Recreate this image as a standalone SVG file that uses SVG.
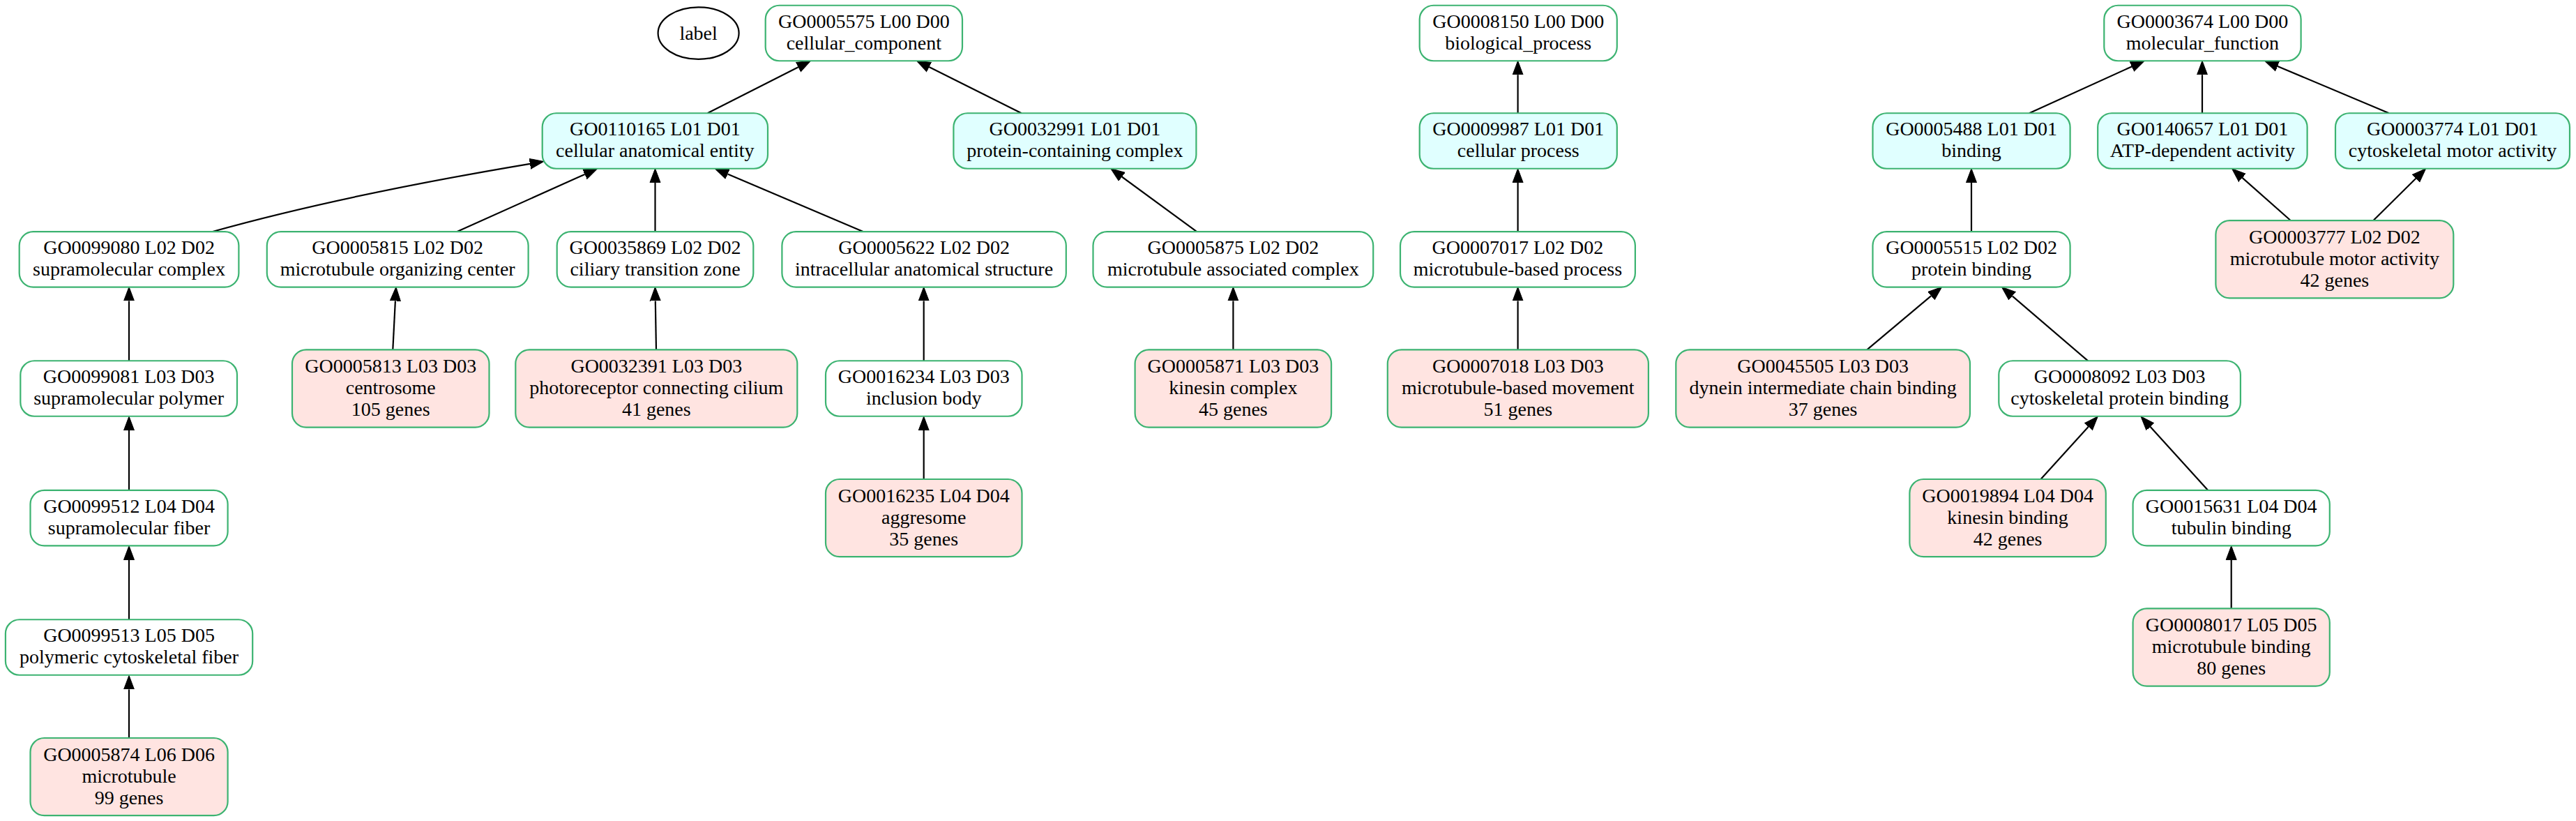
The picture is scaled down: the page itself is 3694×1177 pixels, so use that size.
<svg xmlns="http://www.w3.org/2000/svg" width="3694" height="1177" viewBox="0 0 3694 1177">
<style>
.b{stroke:#3cb371;stroke-width:2.2;fill:#ffffff}
.c{stroke:#3cb371;stroke-width:2.2;fill:#e0ffff}
.p{stroke:#3cb371;stroke-width:2.2;fill:#ffe4e1}
text{font-family:"Liberation Serif","Times New Roman",serif;font-size:28px;fill:#000;text-anchor:middle}
.e path{stroke:#000;stroke-width:2.2;fill:none}
</style>
<defs>
<marker id="ah" markerUnits="userSpaceOnUse" markerWidth="22" markerHeight="18" refX="0" refY="8" orient="auto" viewBox="0 0 22 16">
<path d="M0,0.5 L20,8 L0,15.5 z" fill="#000" stroke="#000" stroke-width="1"/>
</marker>
</defs>
<rect width="3694" height="1177" fill="#fff"/>
<g class="e" id="edges">
<path marker-end="url(#ah)" d="M1014.6,162.2 L1144.7,96.2"/>
<path marker-end="url(#ah)" d="M1464.7,162.2 L1332.3,96.1"/>
<path marker-end="url(#ah)" d="M305,332 C455,290 610,260 760,234.8"/>
<path marker-end="url(#ah)" d="M655.6,332.1 L838.5,249.9"/>
<path marker-end="url(#ah)" d="M939.5,332.1 L939.5,261.7"/>
<path marker-end="url(#ah)" d="M1237.6,332.1 L1043.4,249.5"/>
<path marker-end="url(#ah)" d="M1716.2,332.1 L1608.9,253.5"/>
<path marker-end="url(#ah)" d="M185,517.4 L185,431.4"/>
<path marker-end="url(#ah)" d="M563.3,501.4 L566.9,431.4"/>
<path marker-end="url(#ah)" d="M941,501.3 L939.8,431.4"/>
<path marker-end="url(#ah)" d="M1324.7,517.4 L1324.7,431.4"/>
<path marker-end="url(#ah)" d="M1768.4,501.3 L1768.4,431.4"/>
<path marker-end="url(#ah)" d="M185,702.6 L185,617"/>
<path marker-end="url(#ah)" d="M185,888 L185,802.6"/>
<path marker-end="url(#ah)" d="M185,1057.8 L185,988.4"/>
<path marker-end="url(#ah)" d="M1324.7,687 L1324.7,617"/>
<path marker-end="url(#ah)" d="M2176.6,162.2 L2176.6,107.2"/>
<path marker-end="url(#ah)" d="M2176.6,332.1 L2176.6,261.7"/>
<path marker-end="url(#ah)" d="M2176.6,501.3 L2176.6,431.4"/>
<path marker-end="url(#ah)" d="M2910,162.2 L3056.9,95.5"/>
<path marker-end="url(#ah)" d="M3158,162.2 L3158,107.2"/>
<path marker-end="url(#ah)" d="M3425.8,162.2 L3266,95"/>
<path marker-end="url(#ah)" d="M2827,332.1 L2827,261.7"/>
<path marker-end="url(#ah)" d="M3285.5,316.8 L3215.5,254.9"/>
<path marker-end="url(#ah)" d="M3402.7,316.8 L3464.4,255.8"/>
<path marker-end="url(#ah)" d="M2677.3,501.3 L2769.3,424.2"/>
<path marker-end="url(#ah)" d="M2994.2,517.4 L2885.6,424.4"/>
<path marker-end="url(#ah)" d="M2926.5,687 L2994.8,611.8"/>
<path marker-end="url(#ah)" d="M3165.9,702.6 L3083.5,611.8"/>
<path marker-end="url(#ah)" d="M3199.7,872.4 L3199.7,802.6"/>
</g>
<g id="label"><ellipse cx="1001.6" cy="47.6" rx="58" ry="37.3" fill="#fff" stroke="#000" stroke-width="2.2"/><text x="1001.6" y="56.5">label</text></g>
<g id="GO0005575"><rect class="b" x="1097.7" y="7.75" width="282.3" height="79.5" rx="20"/><text><tspan x="1238.85" y="39.5">GO0005575 L00 D00</tspan><tspan x="1238.85" y="70.5">cellular_component</tspan></text></g>
<g id="GO0008150"><rect class="b" x="2035.7" y="7.75" width="283.1" height="79.5" rx="20"/><text><tspan x="2177.25" y="39.5">GO0008150 L00 D00</tspan><tspan x="2177.25" y="70.5">biological_process</tspan></text></g>
<g id="GO0003674"><rect class="b" x="3017.3" y="7.75" width="282.3" height="79.5" rx="20"/><text><tspan x="3158.45" y="39.5">GO0003674 L00 D00</tspan><tspan x="3158.45" y="70.5">molecular_function</tspan></text></g>
<g id="GO0110165"><rect class="c" x="777.7" y="162.25" width="323.3" height="79.5" rx="20"/><text><tspan x="939.35" y="194">GO0110165 L01 D01</tspan><tspan x="939.35" y="225">cellular anatomical entity</tspan></text></g>
<g id="GO0032991"><rect class="c" x="1367.4" y="162.25" width="348" height="79.5" rx="20"/><text><tspan x="1541.4" y="194">GO0032991 L01 D01</tspan><tspan x="1541.4" y="225">protein-containing complex</tspan></text></g>
<g id="GO0009987"><rect class="c" x="2035.7" y="162.25" width="283.1" height="79.5" rx="20"/><text><tspan x="2177.25" y="194">GO0009987 L01 D01</tspan><tspan x="2177.25" y="225">cellular process</tspan></text></g>
<g id="GO0005488"><rect class="c" x="2685.5" y="162.25" width="283.1" height="79.5" rx="20"/><text><tspan x="2827.05" y="194">GO0005488 L01 D01</tspan><tspan x="2827.05" y="225">binding</tspan></text></g>
<g id="GO0140657"><rect class="c" x="3008.2" y="162.25" width="300.4" height="79.5" rx="20"/><text><tspan x="3158.4" y="194">GO0140657 L01 D01</tspan><tspan x="3158.4" y="225">ATP-dependent activity</tspan></text></g>
<g id="GO0003774"><rect class="c" x="3349" y="162.25" width="336" height="79.5" rx="20"/><text><tspan x="3517" y="194">GO0003774 L01 D01</tspan><tspan x="3517" y="225">cytoskeletal motor activity</tspan></text></g>
<g id="GO0099080"><rect class="b" x="27.7" y="332.05" width="314.7" height="79.5" rx="20"/><text><tspan x="185.05" y="363.8">GO0099080 L02 D02</tspan><tspan x="185.05" y="394.8">supramolecular complex</tspan></text></g>
<g id="GO0005815"><rect class="b" x="382.8" y="332.05" width="374.8" height="79.5" rx="20"/><text><tspan x="570.2" y="363.8">GO0005815 L02 D02</tspan><tspan x="570.2" y="394.8">microtubule organizing center</tspan></text></g>
<g id="GO0035869"><rect class="b" x="798.7" y="332.05" width="281.6" height="79.5" rx="20"/><text><tspan x="939.5" y="363.8">GO0035869 L02 D02</tspan><tspan x="939.5" y="394.8">ciliary transition zone</tspan></text></g>
<g id="GO0005622"><rect class="b" x="1121.4" y="332.05" width="407.4" height="79.5" rx="20"/><text><tspan x="1325.1" y="363.8">GO0005622 L02 D02</tspan><tspan x="1325.1" y="394.8">intracellular anatomical structure</tspan></text></g>
<g id="GO0005875"><rect class="b" x="1567.5" y="332.05" width="401.7" height="79.5" rx="20"/><text><tspan x="1768.35" y="363.8">GO0005875 L02 D02</tspan><tspan x="1768.35" y="394.8">microtubule associated complex</tspan></text></g>
<g id="GO0007017"><rect class="b" x="2008" y="332.05" width="336.9" height="79.5" rx="20"/><text><tspan x="2176.45" y="363.8">GO0007017 L02 D02</tspan><tspan x="2176.45" y="394.8">microtubule-based process</tspan></text></g>
<g id="GO0005515"><rect class="b" x="2685.5" y="332.05" width="283.1" height="79.5" rx="20"/><text><tspan x="2827.05" y="363.8">GO0005515 L02 D02</tspan><tspan x="2827.05" y="394.8">protein binding</tspan></text></g>
<g id="GO0003777"><rect class="p" x="3177.4" y="316.2" width="340.9" height="111.2" rx="20"/><text><tspan x="3347.85" y="348.8">GO0003777 L02 D02</tspan><tspan x="3347.85" y="379.8">microtubule motor activity</tspan><tspan x="3347.85" y="410.8">42 genes</tspan></text></g>
<g id="GO0099081"><rect class="b" x="29.3" y="517.25" width="310.7" height="79.5" rx="20"/><text><tspan x="184.65" y="549">GO0099081 L03 D03</tspan><tspan x="184.65" y="580">supramolecular polymer</tspan></text></g>
<g id="GO0005813"><rect class="p" x="419" y="501.4" width="282.5" height="111.2" rx="20"/><text><tspan x="560.25" y="534">GO0005813 L03 D03</tspan><tspan x="560.25" y="565">centrosome</tspan><tspan x="560.25" y="596">105 genes</tspan></text></g>
<g id="GO0032391"><rect class="p" x="739.3" y="501.4" width="404" height="111.2" rx="20"/><text><tspan x="941.3" y="534">GO0032391 L03 D03</tspan><tspan x="941.3" y="565">photoreceptor connecting cilium</tspan><tspan x="941.3" y="596">41 genes</tspan></text></g>
<g id="GO0016234"><rect class="b" x="1184" y="517.25" width="281.5" height="79.5" rx="20"/><text><tspan x="1324.75" y="549">GO0016234 L03 D03</tspan><tspan x="1324.75" y="580">inclusion body</tspan></text></g>
<g id="GO0005871"><rect class="p" x="1627.6" y="501.4" width="281.5" height="111.2" rx="20"/><text><tspan x="1768.35" y="534">GO0005871 L03 D03</tspan><tspan x="1768.35" y="565">kinesin complex</tspan><tspan x="1768.35" y="596">45 genes</tspan></text></g>
<g id="GO0007018"><rect class="p" x="1989.8" y="501.4" width="374.1" height="111.2" rx="20"/><text><tspan x="2176.85" y="534">GO0007018 L03 D03</tspan><tspan x="2176.85" y="565">microtubule-based movement</tspan><tspan x="2176.85" y="596">51 genes</tspan></text></g>
<g id="GO0045505"><rect class="p" x="2403.3" y="501.4" width="421.7" height="111.2" rx="20"/><text><tspan x="2614.15" y="534">GO0045505 L03 D03</tspan><tspan x="2614.15" y="565">dynein intermediate chain binding</tspan><tspan x="2614.15" y="596">37 genes</tspan></text></g>
<g id="GO0008092"><rect class="b" x="2866.3" y="517.25" width="346.6" height="79.5" rx="20"/><text><tspan x="3039.6" y="549">GO0008092 L03 D03</tspan><tspan x="3039.6" y="580">cytoskeletal protein binding</tspan></text></g>
<g id="GO0099512"><rect class="b" x="43.5" y="702.85" width="283.1" height="79.5" rx="20"/><text><tspan x="185.05" y="734.6">GO0099512 L04 D04</tspan><tspan x="185.05" y="765.6">supramolecular fiber</tspan></text></g>
<g id="GO0016235"><rect class="p" x="1184" y="687" width="281.5" height="111.2" rx="20"/><text><tspan x="1324.75" y="719.6">GO0016235 L04 D04</tspan><tspan x="1324.75" y="750.6">aggresome</tspan><tspan x="1324.75" y="781.6">35 genes</tspan></text></g>
<g id="GO0019894"><rect class="p" x="2738.4" y="687" width="281.4" height="111.2" rx="20"/><text><tspan x="2879.1" y="719.6">GO0019894 L04 D04</tspan><tspan x="2879.1" y="750.6">kinesin binding</tspan><tspan x="2879.1" y="781.6">42 genes</tspan></text></g>
<g id="GO0015631"><rect class="b" x="3058.6" y="702.85" width="282.2" height="79.5" rx="20"/><text><tspan x="3199.7" y="734.6">GO0015631 L04 D04</tspan><tspan x="3199.7" y="765.6">tubulin binding</tspan></text></g>
<g id="GO0099513"><rect class="b" x="7.9" y="888.25" width="354.3" height="79.5" rx="20"/><text><tspan x="185.05" y="920">GO0099513 L05 D05</tspan><tspan x="185.05" y="951">polymeric cytoskeletal fiber</tspan></text></g>
<g id="GO0008017"><rect class="p" x="3058.6" y="872.4" width="282.2" height="111.2" rx="20"/><text><tspan x="3199.7" y="905">GO0008017 L05 D05</tspan><tspan x="3199.7" y="936">microtubule binding</tspan><tspan x="3199.7" y="967">80 genes</tspan></text></g>
<g id="GO0005874"><rect class="p" x="43.5" y="1058" width="283.1" height="111.2" rx="20"/><text><tspan x="185.05" y="1090.6">GO0005874 L06 D06</tspan><tspan x="185.05" y="1121.6">microtubule</tspan><tspan x="185.05" y="1152.6">99 genes</tspan></text></g>
</svg>
